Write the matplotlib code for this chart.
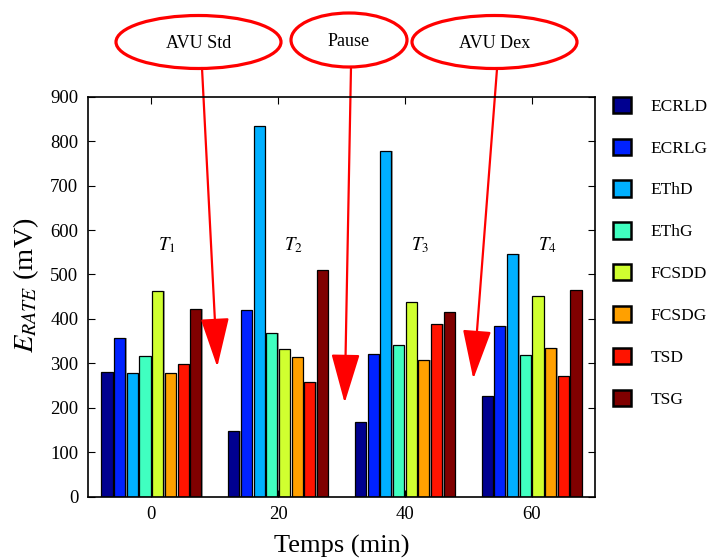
import numpy as np
import matplotlib
matplotlib.use('Agg')
import matplotlib.pyplot as plt
from matplotlib.patches import Ellipse

plt.rcParams['font.family'] = 'Liberation Serif'
plt.rcParams['mathtext.fontset'] = 'stix'

# donnees
temps = [0, 20, 40, 60]
series = ['ECRLD', 'ECRLG', 'EThD', 'EThG', 'FCSDD', 'FCSDG', 'TSD', 'TSG']
ecrld = [281, 148, 169, 227]
ecrlg = [358, 421, 321, 384]
ethd = [279, 833, 778, 547]
ethg = [316, 368, 342, 318]
fcsdd = [463, 332, 437, 452]
fcsdg = [279, 314, 308, 335]
tsd = [298, 258, 389, 272]
tsg = [423, 509, 416, 465]
valeurs = [ecrld, ecrlg, ethd, ethg, fcsdd, fcsdg, tsd, tsg]
phases = ['$T_1$', '$T_2$', '$T_3$', '$T_4$']
# annotations : texte, cible (temps, mV)
annot_txt = ['AVU Std', 'Pause', 'AVU Dex']
annot_cible = [(10.4, 292), (30.5, 211), (50.8, 265)]

couleurs = ['#000090', '#0022ff', '#00b0ff', '#40ffc0',
            '#d0ff30', '#ffa000', '#ff1400', '#800000']

fig = plt.figure(figsize=(7.13, 5.6), dpi=100)
ax = fig.add_axes([88/713, 1-496.7/560, (595-88)/713, 400/560])

larg = 1.75
for i, (nom, vals) in enumerate(zip(series, valeurs)):
    x = np.array(temps) + (i - 3.5) * 2
    # petite ombre grise a droite
    ax.bar(x + 0.22, vals, width=larg, color='#a0a0a0', linewidth=0, zorder=1)
    ax.bar(x, vals, width=larg, color=couleurs[i], edgecolor='black',
           linewidth=0.9, label=nom, zorder=2)

for t, lab in zip(temps, phases):
    ax.text(t + 1, 566, lab, fontsize=13.5, ha='left', va='center')

ax.set_xlim(-10, 70)
ax.set_ylim(0, 900)
ax.set_xticks(temps)
ax.set_yticks(np.arange(0, 901, 100))
ax.tick_params(direction='in', top=True, right=True, length=5, labelsize=13.5, pad=7)
for s in ax.spines.values():
    s.set_linewidth(1.2)
    s.set_zorder(3)
ax.set_xlabel('Temps (min)', fontsize=19, labelpad=8)
ax.set_ylabel('$E_{RATE}$ (mV)', fontsize=20.5)
ax.yaxis.set_label_coords(-0.092, 0.53)

leg = ax.legend(loc='upper left', bbox_to_anchor=(597/713, 1-81/560),
                bbox_transform=fig.transFigure, frameon=False, fontsize=12.5,
                handlelength=1.05, handleheight=1.05, handletextpad=1.15,
                labelspacing=1.38)
for h in leg.legend_handles:
    h.set_linewidth(1.8)

# bulles et fleches
bulles = [(198.5, 42, 165, 53), (349, 40, 116, 54), (494.5, 42, 165, 53)]
departs = [(202, 68), (351, 67), (497, 69)]
for txt, cible, (cx, cy, w, h), (dx, dy) in zip(annot_txt, annot_cible, bulles, departs):
    fig.add_artist(Ellipse((cx/713, 1-cy/560), w/713, h/560, transform=fig.transFigure,
                           facecolor='none', edgecolor='red', linewidth=2.3))
    fig.text(cx/713, 1-(cy+2)/560, txt, fontsize=13, ha='center', va='center')
    ax.annotate('', xy=cible, xycoords='data', xytext=(dx, 560-dy),
                textcoords='figure pixels', annotation_clip=False,
                arrowprops=dict(arrowstyle='-|>,head_length=31,head_width=9',
                                mutation_scale=1, color='red', linewidth=1.6,
                                shrinkA=0, shrinkB=0))

fig.savefig('out.png', dpi=100)
